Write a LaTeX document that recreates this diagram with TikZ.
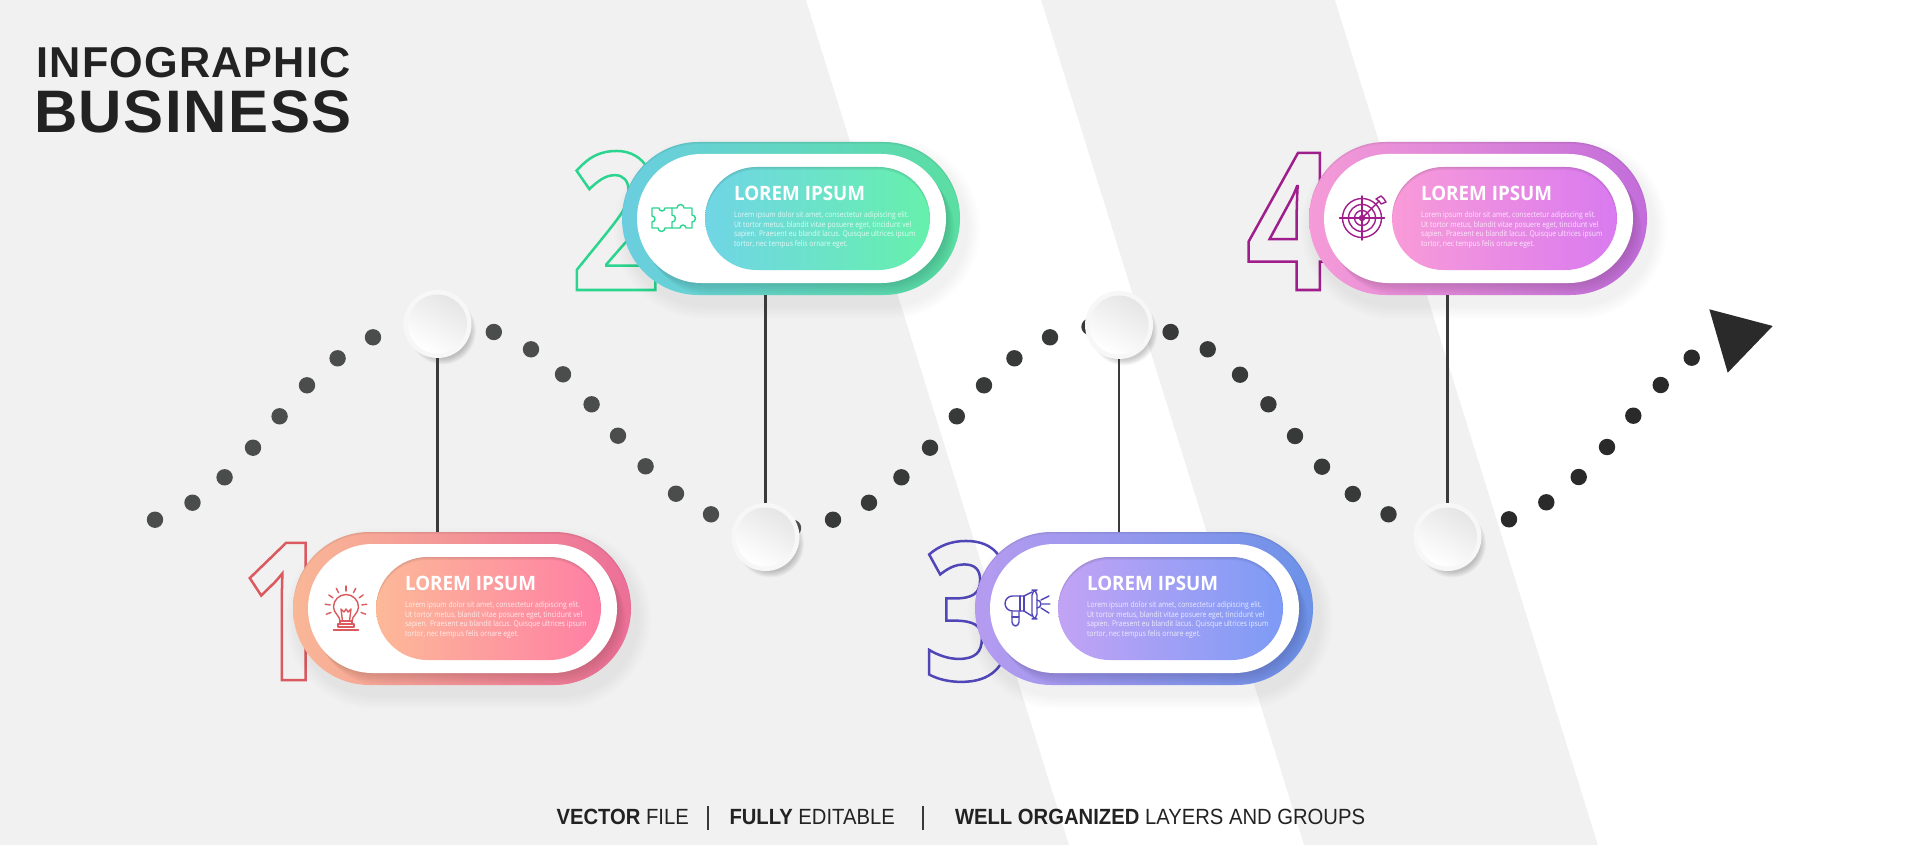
\documentclass[tikz,border=0pt]{standalone}
\usepackage{fontspec}
\setmainfont{Liberation Sans}
\newfontfamily\titlefont[LetterSpace=2.7]{Liberation Sans}
\newfontfamily\footfont[FakeStretch=0.92]{Liberation Sans}
\newfontfamily\digitfont[FakeStretch=0.82]{Open Sans}
\newfontfamily\cardtitlefont[FakeStretch=0.95]{Open Sans}
\newfontfamily\cardbodyfont[FakeStretch=0.86]{Open Sans}
\definecolor{bggrey}{HTML}{F1F1F1}
\definecolor{ink}{HTML}{222222}
\definecolor{wire}{HTML}{3A3A3A}
\definecolor{dota}{HTML}{4B4D4D}
\definecolor{dotb}{HTML}{383A3A}
\definecolor{dotc}{HTML}{2A2A2A}
\definecolor{oa}{HTML}{F9B796}\definecolor{ob}{HTML}{EC6F98}
\definecolor{ia}{HTML}{FDB998}\definecolor{ib}{HTML}{FE7FA4}\definecolor{sa}{HTML}{DB5A5F}
\definecolor{oc}{HTML}{6ACEDF}\definecolor{od}{HTML}{5ADEA2}
\definecolor{ic}{HTML}{70D5E5}\definecolor{id}{HTML}{66F0AC}\definecolor{sb}{HTML}{2BD58F}
\definecolor{oe}{HTML}{B59BF0}\definecolor{of}{HTML}{6C92E8}
\definecolor{ie}{HTML}{C2A3F5}\definecolor{if}{HTML}{7D9BF5}\definecolor{sc}{HTML}{5046B8}
\definecolor{og}{HTML}{F59BD8}\definecolor{oh}{HTML}{C26DDA}
\definecolor{ig}{HTML}{F99BD8}\definecolor{ih}{HTML}{D97AF0}\definecolor{sd}{HTML}{A01E8C}
\colorlet{knobfill}{white!97!black}
\tikzset{
  pillnode/.style={inner sep=0pt,outer sep=0pt,draw=none},
  dotnode/.style={circle,inner sep=0pt,outer sep=0pt,minimum size=8.2pt,draw=none},
  knobnode/.style={circle,inner sep=0pt,outer sep=0pt,minimum size=34pt,draw=none,fill=knobfill},
  wireline/.style={color=wire,line width=1.3pt},
  iconline/.style={line width=0.7pt,line join=round,line cap=round},
  cardtitle/.style={inner sep=0pt,outer sep=0pt,text=white,anchor=base west,font=\cardtitlefont\bfseries\fontsize{9.9pt}{11pt}\selectfont},
  cardbody/.style={inner sep=0pt,outer sep=0pt,anchor=north west,align=left,text=white,text opacity=.8,font=\cardbodyfont\fontsize{3.95pt}{4.87pt}\selectfont},
  footer/.style={inner sep=0pt,outer sep=0pt,anchor=base west,text=ink,font=\footfont\fontsize{11pt}{12pt}\selectfont},
  heading/.style={inner sep=0pt,outer sep=0pt,anchor=base west,text=ink},
}
% digit drawn as outlined real text
\newcommand{\outlinedigit}[4]{%
  \node[inner sep=0pt,outer sep=0pt,anchor=base west] (n#1) at (#2,680-#3) {\digitfont\bfseries\fontsize{96pt}{98pt}\selectfont\color{#4}\special{pdf:code 1 Tr 1.25 w}#1\special{pdf:code 0 Tr}};%
}
\newcommand{\cardpanel}[7]{%
  \foreach \k in {1,...,7}
    \fill[black,opacity=.009,rounded corners=38.25pt+\k*1pt] (#2+6-\k*2,#3+10-\k*2) rectangle (#2+344+\k*2,#3+163+\k*2);
  \node[pillnode,left color=#4,right color=#5,minimum width=169pt,minimum height=76.5pt,rounded corners=38.25pt] (c#1) at (#2+169,#3+76.5) {};
  \begin{scope}
    \path[clip,rounded corners=38.25pt] (#2,#3) rectangle (#2+338,#3+153);
    \foreach \k in {1,...,8}
      \fill[black,opacity=.016,rounded corners=32.25pt] (#2+15+\k*1.1,#3+12+\k*1.5) rectangle (#2+324+\k*1.1,#3+141+\k*1.5);
    \foreach \k in {1,2}
      \fill[black,opacity=.04,even odd rule,rounded corners=38.25pt] (#2-20,#3-20) rectangle (#2+358,#3+173) (#2,#3+\k) rectangle (#2+338,#3+153+\k);
  \end{scope}
  \node[pillnode,fill=white,minimum width=154.5pt,minimum height=64.5pt,rounded corners=32.25pt] (w#1) at (#2+169.5,#3+76.5) {};
  \node[pillnode,left color=#6,right color=#7,minimum width=112.5pt,minimum height=51.5pt,rounded corners=25.75pt] (p#1) at (#2+195.5,#3+76.5) {};
  \begin{scope}
    \path[clip,rounded corners=25.75pt] (#2+83,#3+25) rectangle (#2+308,#3+128);
    \foreach \k in {1,2,3}
      \fill[black,opacity=.04,even odd rule,rounded corners=25.75pt] (#2+63,#3+5) rectangle (#2+328,#3+148) (#2+83,#3+25+\k) rectangle (#2+308,#3+128+\k);
  \end{scope}
  \node[cardtitle] (t#1) at (#2+112,#3+58.7) {LOREM IPSUM};
  \node[cardbody] (b#1) at (#2+112,#3+69.5) {Lorem ipsum dolor sit amet, consectetur adipiscing elit.\\Ut tortor metus, blandit vitae posuere eget, tincidunt vel\\sapien. Praesent eu blandit lacus. Quisque ultrices ipsum\\tortor, nec tempus felis ornare eget.};
}
\newcommand{\knobat}[3]{%
  \foreach \k in {1,...,6}
    \fill[black,opacity=.035] (#2+5,#3+7) circle (34.5-\k*1.1);
  \node[knobnode] (#1) at (#2,#3) {};
  \shade[top color=white!90!black,bottom color=white,shading angle=-30] (#1.center) circle (29.5);
}
\begin{document}
\begin{tikzpicture}[x=0.5pt,y=-0.5pt]
\useasboundingbox (0,0) rectangle (1920,845);
\fill[bggrey] (0,0) rectangle (1920,845);
\fill[white] (806,0) -- (1041,0) -- (1304,845) -- (1069,845) -- cycle;
\fill[white] (1335,0) -- (1920,0) -- (1920,845) -- (1598,845) -- cycle;
% heading
\node[heading] (head1) at (36.5,78) {\titlefont\bfseries\fontsize{21.6pt}{24pt}\selectfont INFOGRAPHIC};
\node[heading] (head2) at (34,133) {\titlefont\bfseries\fontsize{30pt}{32pt}\selectfont BUSINESS};
% numerals
\outlinedigit{1}{240.5}{0}{sa}
\outlinedigit{2}{570.5}{390}{sb}
\outlinedigit{3}{923}{0}{sc}
\outlinedigit{4}{1246}{390}{sd}
% dots
\foreach \x/\y [count=\i] in {155/519.7,192.5/502.7,224.6/477.3,253/447.7,279.6/416.3,307/385.3,337.6/358.3,373/337.3,493.8/332,531/349.3,563/374.3,591.6/404.3,618/435.7,645.6/466.3,676/493.7,711/514.3,793/528}
  \node[dotnode,fill=dota] (da\i) at (\x,\y) {};
\foreach \x/\y [count=\i] in {833/519.7,869/502.7,901.4/477.3,930/447.7,956.8/416.3,984/385.3,1014.4/358.3,1050/337.3,1089.5/326.7,1170.6/332,1207.7/349.3,1240/374.7,1268.4/404.3,1295/436,1322/466.7,1352.8/494,1388.5/514.3}
  \node[dotnode,fill=dotb] (db\i) at (\x,\y) {};
\foreach \x/\y [count=\i] in {1509/519.3,1546.3/502.3,1578.7/477,1607/447,1633.3/415.7,1660.7/385,1691.7/357.7}
  \node[dotnode,fill=dotc] (dc\i) at (\x,\y) {};
\fill[dotc] (1709.3,309.3) -- (1772.7,326) -- (1727.7,372.7) -- cycle;
% knobs
\knobat{k1}{437.5}{324}
\knobat{k2}{765.5}{537}
\knobat{k3}{1119}{325}
\knobat{k4}{1447.5}{537}
% cards
\cardpanel{1}{293}{532}{oa}{ob}{ia}{ib}
\cardpanel{2}{622}{142}{oc}{od}{ic}{id}
\cardpanel{3}{975}{532}{oe}{of}{ie}{if}
\cardpanel{4}{1309}{142}{og}{oh}{ig}{ih}
% connectors
\draw[wireline] (k1.south) -- (k1.south |- c1.north);
\draw[wireline] (k2.north) -- (k2.north |- c2.south);
\draw[wireline] (k3.south) -- (k3.south |- c3.north);
\draw[wireline] (k4.north) -- (k4.north |- c4.south);
% bulb
\begin{scope}[shift={(346,610)},iconline,draw=sa]
  \draw (-6,11) .. controls (-6,6) and (-12.5,3) .. (-12.5,-3) arc (180:360:12.5) .. controls (12.5,3) and (6,6) .. (6,11) -- cycle;
  \draw (-6,11) rectangle (6,14) (-8,14) rectangle (8,17) (-12.5,20) -- (12.5,20);
  \draw (-3.5,11) -- (-5,-1) -- (-2,2) -- (0,-1) -- (2,2) -- (5,-1) -- (3.5,11);
  \foreach \a in {-200,-172.5,-145,-117.5,-90,-62.5,-35,-7.5,20}
    \draw (\a:16) ++(0,-3) -- ++(\a:5);
\end{scope}
% puzzle
\begin{scope}[shift={(674,218)},iconline,draw=sb]
  \draw (-22,-10) -- (-15,-10) arc (180:0:3) -- (-2,-10) -- (-2,-3) arc (270:450:3.5) -- (-2,10) -- (-9,10) arc (0:180:3.5) -- (-22,10) -- (-22,4) arc (90:-90:3) -- cycle;
  \draw (-2,-10) -- (3,-10) arc (180:360:3.5) -- (18,-10) -- (18,-3) arc (270:450:3.5) -- (18,10) -- (12,10) arc (0:-180:3) -- (-2,10);
\end{scope}
% megaphone
\begin{scope}[shift={(1027,608)},iconline,draw=sc]
  \draw[rounded corners=2.5pt] (5,-18) rectangle (10,11);
  \draw (5,-16) -- (-3,-12) -- (-14.5,-12) arc (270:90:7.5) -- (-3,3) -- (5,8);
  \draw (-3,-12) -- (-3,3) (-7,-12) -- (-7,3);
  \draw[rounded corners=2pt] (-15,4) -- (-15,18) -- (-8,18) -- (-8,4);
  \draw (-15,9) -- (-8,9);
  \draw (10,-8) arc (-90:90:4);
  \draw (14,-8) -- (22,-12) (15,-4) -- (23,-4) (14,0) -- (22,5);
\end{scope}
% target
\begin{scope}[shift={(1362,218)},iconline,draw=sd]
  \draw (0,0) circle (19.5) (0,0) circle (13.5) (0,0) circle (7.5) (0,0) circle (2.5);
  \draw (-22.5,0) -- (22.5,0) (0,-22) -- (0,22);
  \draw (0,0) -- (17,-17);
  \draw (14,-19) -- (17,-17) -- (19,-14) -- (24,-16) -- (22,-19) -- (19,-22) -- cycle;
\end{scope}
% footer
\node[footer] (f1) at (556.5,824) {\bfseries VECTOR\mdseries\ FILE};
\draw[wire,line width=0.9pt] (708,806) -- (708,830);
\node[footer] (f2) at (729.5,824) {\bfseries FULLY\mdseries\ EDITABLE};
\draw[wire,line width=0.9pt] (923,806) -- (923,830);
\node[footer] (f3) at (955,824) {\bfseries WELL ORGANIZED\mdseries\ LAYERS AND GROUPS};
\end{tikzpicture}
\end{document}
